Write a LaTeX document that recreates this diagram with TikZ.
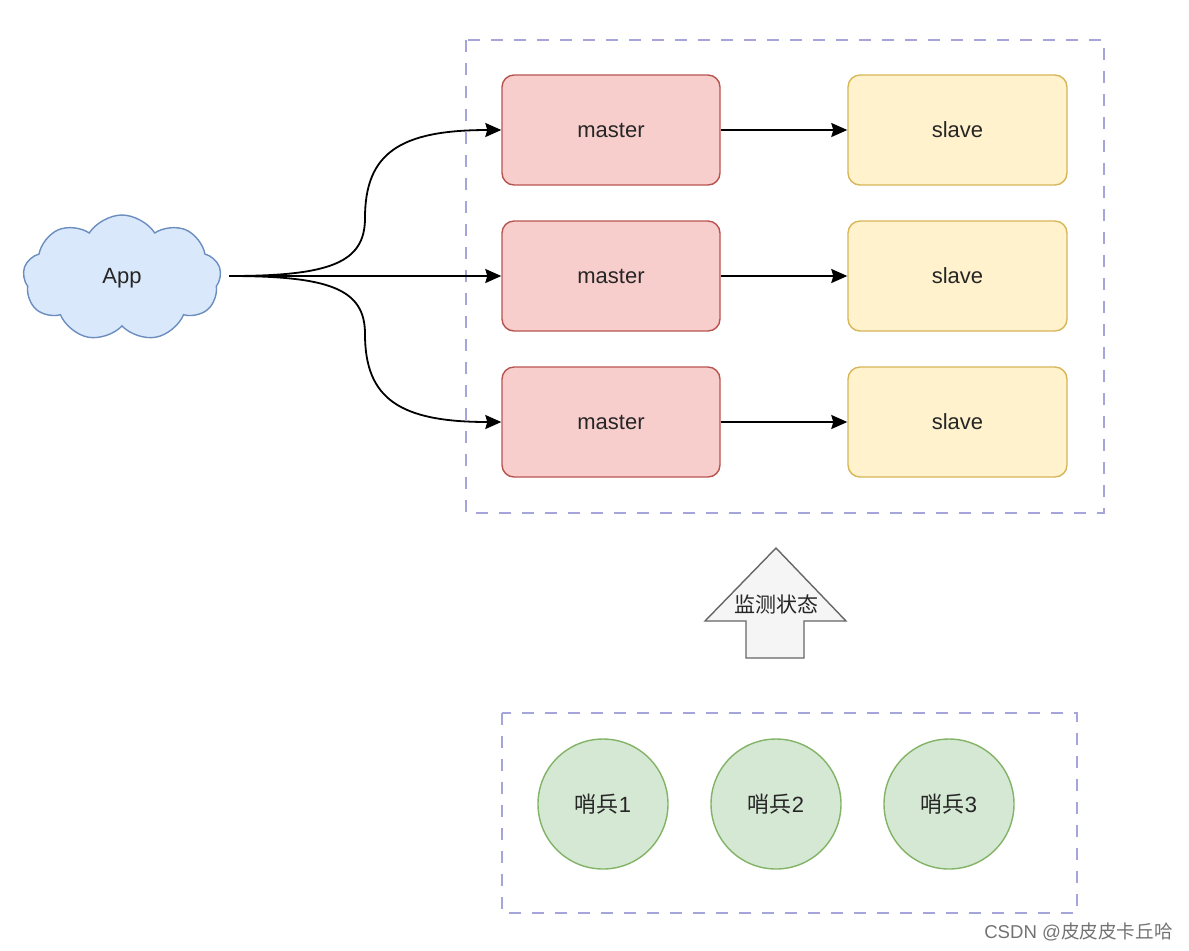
\documentclass[tikz,border=0pt]{standalone}
\usepackage{fontspec}
\setmainfont{Liberation Sans}
\newfontfamily\cjk{Noto Sans CJK SC}
\usetikzlibrary{shapes.symbols,arrows.meta}
\definecolor{grpline}{RGB}{165,165,220}
\definecolor{mfill}{HTML}{F8CECC}\definecolor{mline}{HTML}{B85450}
\definecolor{sfill}{HTML}{FFF2CC}\definecolor{sline}{HTML}{D6B656}
\definecolor{cfill}{HTML}{DAE8FC}\definecolor{cline}{HTML}{6C8EBF}
\definecolor{gfill}{HTML}{D5E8D4}\definecolor{gline}{HTML}{82B366}
\definecolor{afill}{HTML}{F5F5F5}\definecolor{aline}{HTML}{666666}
\tikzset{
  grp/.style={draw=grpline,line width=1pt,dash pattern=on 6pt off 5.5pt},
  masterbox/.style={draw=mline,fill=mfill,line width=0.7pt,rounded corners=6pt,minimum width=109pt,minimum height=55pt,font=\fontsize{11}{13}\selectfont,text=black!85},
  slavebox/.style={draw=sline,fill=sfill,line width=0.7pt,rounded corners=6pt,minimum width=109.5pt,minimum height=55pt,font=\fontsize{11}{13}\selectfont,text=black!85},
  sentinel/.style={circle,draw=gline,fill=gfill,line width=0.7pt,minimum size=65pt,inner sep=0pt,font=\fontsize{11}{13}\selectfont,text=black!85},
  appcloud/.style={cloud,cloud puffs=9,cloud puff arc=115,aspect=1.6,draw=cline,fill=cfill,line width=0.7pt,minimum width=99pt,minimum height=63pt,inner sep=0pt,font=\fontsize{11}{13}\selectfont,text=black!85},
  conn/.style={line width=0.9pt,-{Stealth[length=8pt,width=7pt,inset=1pt]}}
}
\begin{document}
\begin{tikzpicture}[x=0.5pt,y=-0.5pt]
\path[use as bounding box] (0,0) rectangle (1189,950);
% group boxes
\draw[grp] (466,40) rectangle (1104,513);
\draw[grp] (502,713) rectangle (1077,913);
% cloud
\node[appcloud] (app) at (122,278) {App};
\coordinate (src) at (229,276);
% masters and slaves
\node[masterbox] (m1) at (611,130) {master};
\node[masterbox] (m2) at (611,276) {master};
\node[masterbox] (m3) at (611,422) {master};
\node[slavebox] (s1) at (957.5,130) {slave};
\node[slavebox] (s2) at (957.5,276) {slave};
\node[slavebox] (s3) at (957.5,422) {slave};
% connectors
\draw[conn] (src) .. controls (330,276) and (365,263) .. (365,218) .. controls (365,153) and (400,130) .. (m1.west);
\draw[conn] (src) -- (m2.west);
\draw[conn] (src) .. controls (330,276) and (365,289) .. (365,334) .. controls (365,399) and (400,422) .. (m3.west);
\draw[conn] (m1) -- (s1);
\draw[conn] (m2) -- (s2);
\draw[conn] (m3) -- (s3);
% big arrow
\draw[draw=aline,fill=afill,line width=0.7pt,line join=miter]
  (776,548) -- (846,621) -- (804,621) -- (804,658) -- (746,658) -- (746,621) -- (705,621) -- cycle;
\node[font=\cjk\fontsize{10.5}{12}\selectfont,text=black!85,inner sep=0pt] (mon) at (776,604) {监测状态};
% sentinels
\node[sentinel] (g1) at (603,804) {{\cjk 哨兵}1};
\node[sentinel] (g2) at (776,804) {{\cjk 哨兵}2};
\node[sentinel] (g3) at (949,804) {{\cjk 哨兵}3};
% watermark
\node[anchor=east,inner sep=0pt,text=black!55,font=\fontsize{9.3}{11}\selectfont] (wm) at (1173,932) {CSDN @{\cjk 皮皮皮卡丘哈}};
\end{tikzpicture}
\end{document}
